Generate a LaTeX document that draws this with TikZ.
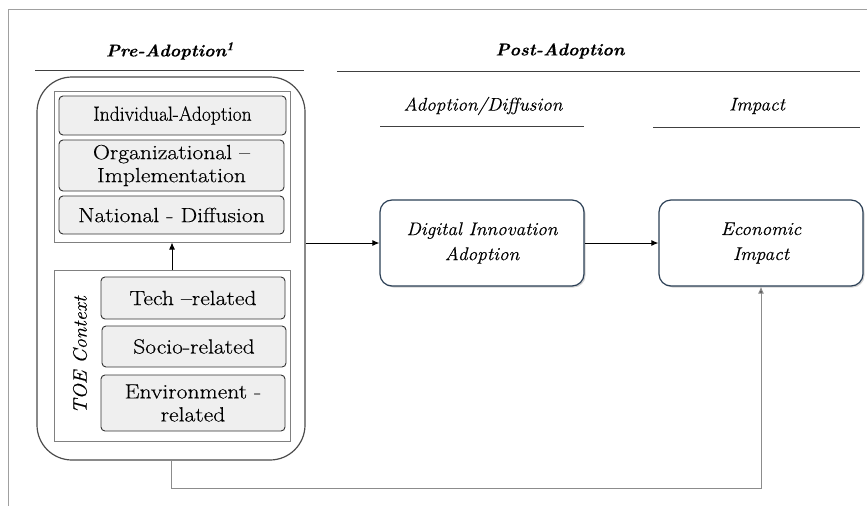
\documentclass[tikz,border=0pt]{standalone}
\usepackage{fontspec}
\usepackage{graphicx}
\setmainfont{Latin Modern Roman}[FakeStretch=1.15,FakeBold=0.35]
\newfontfamily\narrowfont{Latin Modern Roman}[FakeStretch=1.05,FakeBold=0.3]
\usetikzlibrary{shadows,arrows.meta}
\definecolor{frame}{HTML}{A0A0A0}
\definecolor{boxblue}{HTML}{2B3F55}
\definecolor{lightfill}{HTML}{EFEFEF}
\tikzset{
  layerbox/.style={draw=black!80, fill=lightfill, rounded corners=4pt, line width=0.9pt,
    align=center, inner sep=0pt, font=\fontsize{20.5}{23}\selectfont},
  grouprect/.style={draw=black!50, fill=white, line width=1pt, inner sep=0pt},
  stagebox/.style={draw=boxblue, fill=white, rounded corners=12pt, line width=1.2pt,
    align=center, inner sep=0pt, minimum width=204pt, minimum height=86pt,
    drop shadow={shadow xshift=1.5pt, shadow yshift=-1.5pt, opacity=0.35},
    font=\narrowfont\itshape\fontsize{18.4}{25}\selectfont},
  head/.style={font=\narrowfont\bfseries\itshape\fontsize{17}{20}\selectfont},
  subhead/.style={font=\narrowfont\itshape\fontsize{18.3}{20}\selectfont},
  rule/.style={draw=black!75, line width=1pt},
  flow/.style={draw=black, line width=1pt, -{Latex[length=7pt,width=6pt]}},
  feedback/.style={draw=black!45, line width=1pt, -{Latex[length=7pt,width=6pt,fill=black!70]}}
}
\begin{document}
\begin{tikzpicture}[x=1pt,y=-1pt]
\useasboundingbox (0,0) rectangle (867,506);
\draw[frame, line width=0.8pt] (8,506) -- (8,9) -- (867,9);

% headings
\node[head] (pre) at (170,51) {Pre-Adoption\textsuperscript{1}};
\draw[rule] (35,70) -- (304,70);
\node[head] (post) at (560,51) {Post-Adoption};
\draw[rule] (337,71) -- (860,71);
\node[subhead] (adh) at (483,106) {Adoption/Diffusion};
\draw[rule] (380,126) -- (584,126);
\node[subhead] (imh) at (757,106) {Impact};
\draw[rule] (653,127) -- (860,127);

% big container
\node[draw=black!70, line width=1.2pt, rounded corners=35pt, minimum width=268pt, minimum height=383pt, inner sep=0pt] (big) at (171,268.5) {};

% upper group
\node[grouprect, minimum width=236pt, minimum height=151pt] (upper) at (172,166.5) {};
\node[layerbox, minimum width=227pt, minimum height=39pt] (ind) at (172.5,115.5) {\scalebox{0.83}[1]{Individual-Adoption}};
\node[layerbox, minimum width=225pt, minimum height=51pt] (org) at (171.5,165.5) {Organizational --\\Implementation};
\node[layerbox, minimum width=225pt, minimum height=38pt] (nat) at (171.5,215) {National - Diffusion};

% lower group
\node[grouprect, minimum width=236pt, minimum height=171pt] (lower) at (172,355.5) {};
\node[rotate=90, font=\narrowfont\itshape\fontsize{19.4}{22}\selectfont] (toe) at (80,355) {TOE Context};
\node[layerbox, minimum width=184pt, minimum height=42pt] (tech) at (193,298) {Tech --related};
\node[layerbox, minimum width=184pt, minimum height=41pt] (socio) at (194,346.5) {Socio-related};
\node[layerbox, minimum width=184pt, minimum height=56pt] (env) at (193,403) {Environment -\\related};

% stages
\node[stagebox] (di) at (482,243) {Digital Innovation\\Adoption};
\node[stagebox] (ei) at (761,243) {Economic\\Impact};

% connectors
\draw[flow] (lower.north) -- (upper.south);
\draw[flow] (big.east |- di.west) -- (di.west);
\draw[flow] (di.east) -- (ei.west);
\coordinate (bend) at (171,488);
\draw[feedback] (big.south) -- (bend) -| (ei.south);
\end{tikzpicture}
\end{document}
